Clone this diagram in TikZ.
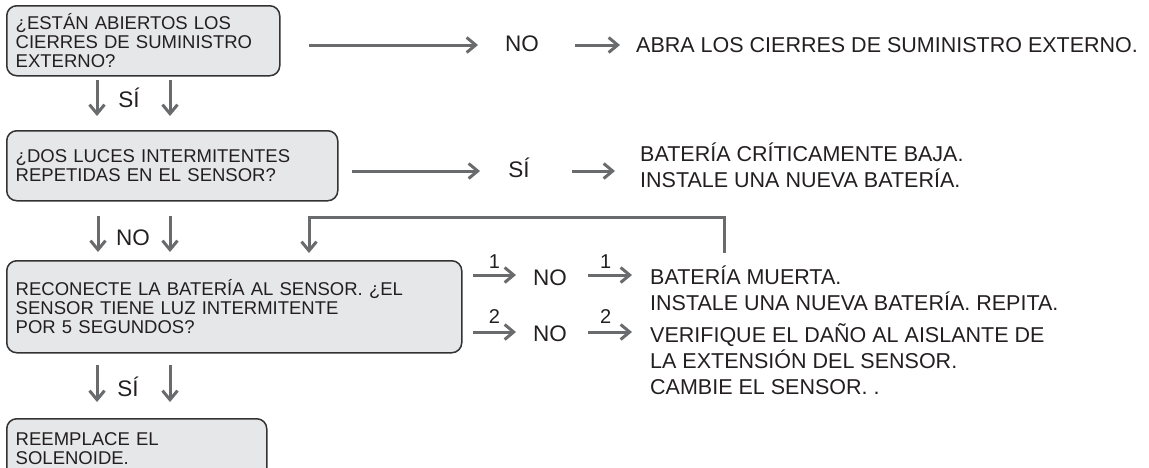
\documentclass[tikz,border=0pt]{standalone}
\usepackage{fontspec}
\setmainfont{Liberation Sans}
\usetikzlibrary{arrows.meta}
\definecolor{arrgray}{HTML}{6A6B6D}
\definecolor{boxfill}{HTML}{E6E7E8}
\definecolor{boxline}{HTML}{333333}
\definecolor{txt}{HTML}{231F20}
\begin{document}
\begin{tikzpicture}[x=1pt,y=-1pt,
  box/.style={draw=boxline, fill=boxfill, line width=1.5pt, rounded corners=10pt,
    anchor=north west, inner xsep=9pt, inner ysep=0pt, align=left,
    font=\fontsize{18.5}{19}\selectfont, text=txt},
  arr/.style={draw=arrgray, line width=3pt, -{Straight Barb[length=9pt,width=15pt]}},
  lbl/.style={font=\fontsize{22.5}{26}\selectfont, text=txt, inner sep=0pt, anchor=base},
  res/.style={font=\fontsize{21.5}{26}\selectfont, text=txt, inner sep=0pt, anchor=base west, align=left},
  num/.style={font=\fontsize{20}{20}\selectfont, text=txt, inner sep=0pt, anchor=base}]
\useasboundingbox (0,0) rectangle (1149,467);
\clip (0,0) rectangle (1149,467);

% boxes
\node[box, text width=255pt, minimum height=70pt] (b1) at (6,5)
  {¿ESTÁN ABIERTOS LOS\\CIERRES DE SUMINISTRO\\EXTERNO?};
\node[box, text width=313pt, minimum height=70pt] (b2) at (6,130)
  {¿DOS LUCES INTERMITENTES\\REPETIDAS EN EL SENSOR?};
\node[box, text width=437pt, minimum height=92pt] (b3) at (6,260)
  {RECONECTE LA BATERÍA AL SENSOR. ¿EL\\SENSOR TIENE LUZ INTERMITENTE\\POR 5 SEGUNDOS?};
\node[box, text width=242pt, minimum height=59pt] (b4) at (6,418)
  {REEMPLACE EL\\SOLENOIDE.};

% row 1
\node[lbl] (no1) at (522,51) {NO};
\node[res] (r1) at (636,52.7) {ABRA LOS CIERRES DE SUMINISTRO EXTERNO.};
\coordinate (a1s) at (309,45); \coordinate (a1e) at (478,45);
\coordinate (a2s) at (575,45); \coordinate (a2e) at (620,45);
\draw[arr] (a1s) -- (a1e);
\draw[arr] (a2s) -- (a2e);

% row 2
\node[lbl] (si2) at (519,177) {SÍ};
\node[res] (r2) at (640,187.7) {BATERÍA CRÍTICAMENTE BAJA.\\INSTALE UNA NUEVA BATERÍA.};
\coordinate (c1s) at (352,171); \coordinate (c1e) at (480,171);
\coordinate (c2s) at (572,171); \coordinate (c2e) at (615,171);
\draw[arr] (c1s) -- (c1e);
\draw[arr] (c2s) -- (c2e);

% row 3
\node[lbl] (no3) at (550,285) {NO};
\node[res] (r3) at (650,310.5) {BATERÍA MUERTA.\\INSTALE UNA NUEVA BATERÍA. REPITA.};
\coordinate (d1s) at (473,275); \coordinate (d1e) at (516,275);
\coordinate (d2s) at (588,275); \coordinate (d2e) at (632,275);
\draw[arr] (d1s) -- node[num, pos=0.5, yshift=7pt] (n3a) {1} (d1e);
\draw[arr] (d2s) -- node[num, pos=0.4, yshift=7pt] (n3b) {1} (d2e);

% row 4
\node[lbl] (no4) at (550,341.5) {NO};
\node[res] (r4) at (650,394) {VERIFIQUE EL DAÑO AL AISLANTE DE\\LA EXTENSIÓN DEL SENSOR.\\CAMBIE EL SENSOR. .};
\coordinate (e1s) at (473,332); \coordinate (e1e) at (516,332);
\coordinate (e2s) at (588,332); \coordinate (e2e) at (632,332);
\draw[arr] (e1s) -- node[num, pos=0.5, yshift=9pt] (n4a) {2} (e1e);
\draw[arr] (e2s) -- node[num, pos=0.4, yshift=9pt] (n4b) {2} (e2e);

% feedback
\coordinate (fb1) at (724,253);
\coordinate (fbin) at (309,253);
\draw[arr] (fb1) -- ++(0,-36) -| (fbin);

% vertical arrows
\coordinate (v1a) at (97,80);  \coordinate (v1b) at (97,116);
\coordinate (v2a) at (170,80); \coordinate (v2b) at (170,116);
\coordinate (v3a) at (98,216); \coordinate (v3b) at (98,252);
\coordinate (v4a) at (170,216); \coordinate (v4b) at (170,252);
\coordinate (v5a) at (97,365); \coordinate (v5b) at (97,402);
\coordinate (v6a) at (170,365); \coordinate (v6b) at (170,402);
\node[lbl] (si1) at (129,107) {SÍ};
\draw[arr] (v1a) -- (v1b);
\draw[arr] (v2a) -- (v2b);
\node[lbl] (no2) at (133,245.5) {NO};
\draw[arr] (v3a) -- (v3b);
\draw[arr] (v4a) -- (v4b);
\node[lbl] (si3) at (128,396) {SÍ};
\draw[arr] (v5a) -- (v5b);
\draw[arr] (v6a) -- (v6b);
\end{tikzpicture}
\end{document}
